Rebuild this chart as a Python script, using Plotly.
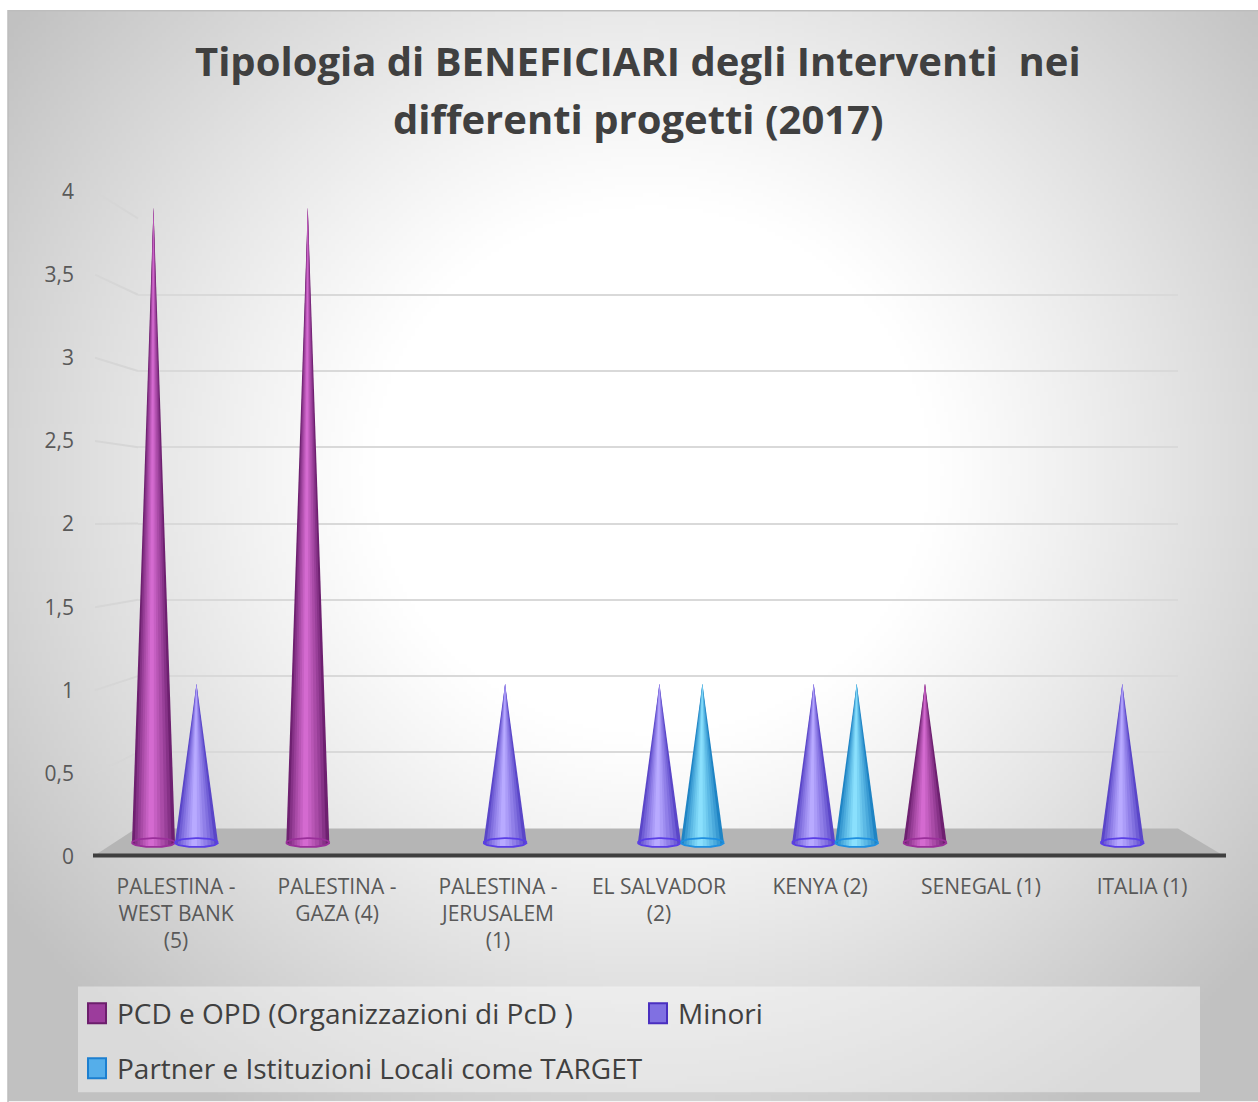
import base64
import struct
import zlib

import numpy as np
import plotly.graph_objects as go

# ---------------- data ----------------
categories = ["PALESTINA -<br>WEST BANK<br>(5)", "PALESTINA -<br>GAZA (4)",
              "PALESTINA -<br>JERUSALEM<br>(1)", "EL SALVADOR<br>(2)",
              "KENYA (2)", "SENEGAL (1)", "ITALIA (1)"]
series_names = ["PCD e OPD (Organizzazioni di PcD )", "Minori",
                "Partner e Istituzioni Locali come TARGET"]
pcd_values = [4, 4, 0, 0, 0, 1, 0]
minori_values = [1, 0, 1, 1, 1, 0, 1]
partner_values = [0, 0, 0, 1, 1, 0, 0]
y_tickvals = [0, 0.5, 1, 1.5, 2, 2.5, 3, 3.5, 4]
y_ticktext = ["0", "0,5", "1", "1,5", "2", "2,5", "3", "3,5", "4"]
title_lines = ["Tipologia di BENEFICIARI degli Interventi \u00a0nei",
               "differenti progetti (2017)"]

# ---------------- styling ----------------
W, H = 1258, 1102
FONT = "Open Sans"
series_values = [pcd_values, minori_values, partner_values]
cone_colors = [  # dark edge, light centre, rim
    ("#6e2070", "#d46ad0", "#9a2f9a"),
    ("#5a46c8", "#b8aaff", "#5a3ee6"),
    ("#1f84c4", "#8ae0fd", "#1f8fe0"),
]
legend_fill = ["#9c3c9c", "#8070e2", "#55aeea"]
legend_border = ["#6c1e6c", "#4a2fc0", "#1c7fd0"]

# vertical calibration of the photographed page (target pixel -> paper fraction)
V_OFF, V_SC = 14.2, 0.976


def X(x):
    return x / W


def Y(y):
    return 1 - ((y - V_OFF) / V_SC) / H


def hex2rgb(h):
    h = h.lstrip("#")
    return np.array([int(h[i:i + 2], 16) for i in (0, 2, 4)], dtype=float)


def mix(c1, c2, t):
    c = hex2rgb(c1) * (1 - t) + hex2rgb(c2) * t
    return "rgb({},{},{})".format(*[int(round(v)) for v in c])


# ---------------- background gradient as an embedded PNG ----------------
def png_gray(arr):
    h, w = arr.shape
    raw = b"".join(b"\x00" + arr[r].tobytes() for r in range(h))

    def chunk(t, d):
        c = struct.pack(">I", len(d)) + t + d
        return c + struct.pack(">I", zlib.crc32(t + d) & 0xFFFFFFFF)

    return (b"\x89PNG\r\n\x1a\n"
            + chunk(b"IHDR", struct.pack(">IIBBBBB", w, h, 8, 0, 0, 0, 0))
            + chunk(b"IDAT", zlib.compress(raw, 9))
            + chunk(b"IEND", b""))


BG_X0, BG_Y0, BG_Y1 = 8, 10, 1102
step = 4
gw, gh = (W - BG_X0) // step, (BG_Y1 - BG_Y0) // step
jj, ii = np.meshgrid(np.arange(gw), np.arange(gh))
Xp = BG_X0 + (jj + 0.5) * step
Yp = BG_Y0 + (ii + 0.5) * step
r = np.hypot(Xp - 650, (Yp - 470) * 1.05)
g = 255 - 60 * np.clip((r - 280) / 500, 0, 1.03) ** 1.1
img = np.clip(g, 0, 255).astype(np.uint8)
bg_uri = "data:image/png;base64," + base64.b64encode(png_gray(img)).decode()

fig = go.Figure()

shapes = []
shapes.append(dict(type="rect", xref="paper", yref="paper", x0=X(BG_X0), x1=1.01, y0=Y(BG_Y1 + 5),
                   y1=Y(BG_Y0), fillcolor="rgba(0,0,0,0)", line=dict(width=1.5, color="#bdbdbd"),
                   layer="below"))

# floor
FRONT_Y, BACK_Y = 857, 829
shapes.append(dict(type="path", xref="paper", yref="paper",
                   path=f"M {X(93)},{Y(FRONT_Y)} L {X(1225)},{Y(FRONT_Y)} L {X(1178)},{Y(BACK_Y)} L {X(136)},{Y(BACK_Y)} Z",
                   fillcolor="#b5b5b5", line=dict(width=0), layer="below"))
shapes.append(dict(type="line", xref="paper", yref="paper", x0=X(93), x1=X(1226),
                   y0=Y(FRONT_Y - 1), y1=Y(FRONT_Y - 1), line=dict(color="#3f3f3f", width=4),
                   layer="below"))

# connectors from front tick labels to back-wall gridlines
front_scale = (857 - 191) / 4.0
back_scale = (829 - 218) / 4.0
for v in y_tickvals[1:]:
    shapes.append(dict(type="line", xref="paper", yref="paper",
                       x0=X(95), x1=X(138),
                       y0=Y(FRONT_Y - front_scale * v), y1=Y(BACK_Y - back_scale * v),
                       line=dict(color="#d6d6d6", width=2), layer="below"))

# legend box
shapes.append(dict(type="rect", xref="paper", yref="paper", x0=X(78), x1=X(1200),
                   y0=Y(1093), y1=Y(987), fillcolor="rgba(255,255,255,0.4)",
                   line=dict(width=0), layer="below"))

# ---------------- axes subplots ----------------
n = len(categories)
lab_step = 161.0
lab_x0 = 176.0
fig.add_trace(go.Scatter(x=list(range(n)), y=[0] * n, mode="markers",
                         marker=dict(opacity=0), hoverinfo="skip", showlegend=False,
                         xaxis="x", yaxis="y"))
fig.add_trace(go.Scatter(x=[0, 1], y=[0, 4], mode="markers", marker=dict(opacity=0),
                         hoverinfo="skip", showlegend=False, xaxis="x2", yaxis="y2"))

cone_step = 154.3
cone_x0 = 196.5
cone_unit = 159.0
cone_base = 843.0
series_offset = 43.0 / cone_step
half_w = 21.5 / cone_step
ell = 4.5 / cone_unit


def ybot(x, xc):
    t = np.clip((x - xc) / half_w, -1, 1)
    return -ell * np.sqrt(1 - t ** 2)


N_LAYERS = 7
for k, (vals, cols) in enumerate(zip(series_values, cone_colors)):
    off = (k - 1) * series_offset
    for i, v in enumerate(vals):
        if v <= 0:
            continue
        xc = i + off
        hl = xc - 0.12 * half_w  # highlight centre
        for j in range(N_LAYERS):
            f = 1 - j / N_LAYERS
            xl = hl - f * (hl - (xc - half_w))
            xr = hl + f * ((xc + half_w) - hl)
            col = mix(cols[0], cols[1], (j / (N_LAYERS - 1)) ** 0.8)
            xs_b = np.linspace(xr, xl, 30)
            xs = [xc, xr] + list(xs_b) + [xl, xc]
            ys = [v, ybot(xr, xc)] + list(ybot(xs_b, xc)) + [ybot(xl, xc), v]
            fig.add_trace(go.Scatter(x=xs, y=ys, mode="lines", fill="toself",
                                     fillcolor=col, line=dict(width=0, color=col),
                                     hoverinfo="skip", showlegend=False,
                                     xaxis="x3", yaxis="y3"))
        t = np.linspace(0, 2 * np.pi, 60)
        fig.add_trace(go.Scatter(x=xc + half_w * np.cos(t), y=ell * np.sin(t), mode="lines",
                                 line=dict(width=1.8, color=cols[2]), hoverinfo="skip",
                                 showlegend=False, xaxis="x3", yaxis="y3"))

# ---------------- legend (manual) + title ----------------
legend_pos = [(88, 1014, 115), (649, 1014, 676), (88, 1069, 115)]
annotations = []
for k, name in enumerate(series_names):
    lx, ly, tx = legend_pos[k]
    shapes.append(dict(type="rect", xref="paper", yref="paper",
                       x0=X(lx), x1=X(lx + 18), y0=Y(ly + 10), y1=Y(ly - 10),
                       fillcolor=legend_fill[k], line=dict(color=legend_border[k], width=2)))
    annotations.append(dict(xref="paper", yref="paper", x=X(tx), y=Y(ly),
                            xanchor="left", yanchor="middle", text=name, showarrow=False,
                            font=dict(family=FONT, size=28, color="#404040")))

for line_text, ly in zip(title_lines, [60, 118]):
    annotations.append(dict(xref="paper", yref="paper", x=X(638), y=Y(ly), xanchor="center",
                            yanchor="middle", text=f"<b>{line_text}</b>", showarrow=False,
                            font=dict(family=FONT, size=40, color="#404040")))

fig.update_layout(
    width=W, height=H,
    margin=dict(l=0, r=0, t=0, b=0),
    paper_bgcolor="white", plot_bgcolor="rgba(0,0,0,0)",
    separators=", ",
    showlegend=False,
    shapes=shapes,
    annotations=annotations,
    images=[dict(source=bg_uri, xref="paper", yref="paper", x=X(BG_X0), y=Y(BG_Y0),
                 sizex=1 - X(BG_X0), sizey=Y(BG_Y0) - Y(BG_Y1), xanchor="left", yanchor="top",
                 sizing="stretch", layer="below")],
    font=dict(family=FONT, color="#595959"),
    xaxis=dict(domain=[0, 1], range=[(0 - lab_x0) / lab_step, (W - lab_x0) / lab_step],
               tickvals=list(range(n)), ticktext=categories, showgrid=False, zeroline=False,
               showline=False, ticks="", anchor="y", ticklabelstandoff=15,
               tickfont=dict(family=FONT, size=21, color="#595959"), fixedrange=True),
    yaxis=dict(domain=[Y(FRONT_Y), Y(191)], range=[0, 4], anchor="free", position=X(78),
               tickvals=y_tickvals, ticktext=y_ticktext, showgrid=False, zeroline=False,
               showline=False, ticks="", ticklabelstandoff=4,
               tickfont=dict(family=FONT, size=21, color="#595959"), fixedrange=True),
    xaxis2=dict(domain=[X(138), X(1178)], range=[0, 1], visible=False, anchor="y2",
                fixedrange=True),
    yaxis2=dict(domain=[Y(BACK_Y), Y(218)], range=[0, 4], anchor="x2",
                tickvals=y_tickvals[1:], showticklabels=False, showgrid=True,
                gridcolor="#d9d9d9", gridwidth=2, zeroline=False, showline=False,
                ticks="", fixedrange=True),
    xaxis3=dict(domain=[0, 1], range=[-cone_x0 / cone_step, (W - cone_x0) / cone_step],
                visible=False, anchor="y3", fixedrange=True),
    yaxis3=dict(domain=[Y(cone_base + 0.15 * cone_unit), Y(cone_base - 4.3 * cone_unit)],
                range=[-0.15, 4.3], visible=False, anchor="x3", fixedrange=True),
)

post = """
document.body.style.margin = '0';
document.body.style.overflow = 'hidden';
"""
fig.write_html("out.html", config={"displayModeBar": False}, post_script=post)
